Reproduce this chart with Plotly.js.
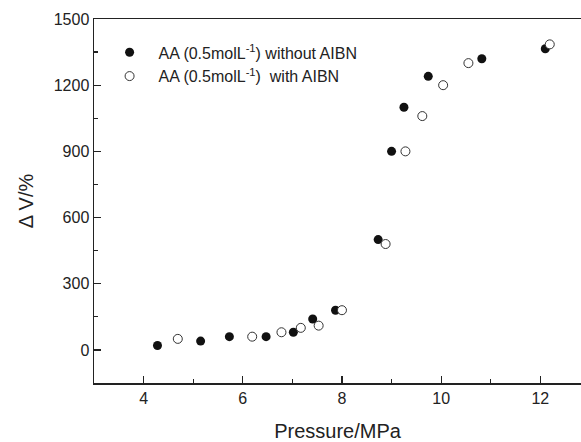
<!DOCTYPE html>
<html>
<head>
<meta charset="utf-8">
<script src="https://cdn.plot.ly/plotly-3.0.1.min.js"></script>
<style>html,body{margin:0;padding:0;background:#fff;}#chart{width:581px;height:442px;}</style>
</head>
<body>
<div id="chart"></div>
<script>
const seriesNames = ["&nbsp;&nbsp;AA (0.5molL<sup>-1</sup>) without AIBN", "&nbsp;&nbsp;AA (0.5molL<sup>-1</sup>)&nbsp;&nbsp;with AIBN"];
const pressureWithout = [4.28, 5.15, 5.73, 6.47, 7.02, 7.41, 7.87, 8.73, 9.0, 9.25, 9.74, 10.82, 12.1];
const dvWithout = [20, 40, 60, 60, 80, 140, 180, 500, 900, 1100, 1240, 1320, 1365];
const pressureWith = [4.69, 6.19, 6.78, 7.17, 7.53, 8.0, 8.88, 9.28, 9.62, 10.04, 10.55, 12.19];
const dvWith = [50, 60, 80, 100, 110, 180, 480, 900, 1060, 1200, 1300, 1385];
const xTicks = [4, 6, 8, 10, 12];
const yTicks = [0, 300, 600, 900, 1200, 1500];

const traces = [
  {x: pressureWithout, y: dvWithout, name: seriesNames[0], mode: 'markers', type: 'scatter',
   marker: {symbol: 'circle', size: 9, color: '#111', line: {width: 0}}},
  {x: pressureWith, y: dvWith, name: seriesNames[1], mode: 'markers', type: 'scatter',
   marker: {symbol: 'circle', size: 9, color: '#fff', line: {width: 1, color: '#333'}}}
];

const layout = {
  width: 581, height: 442,
  margin: {l: 94, r: 0, t: 19, b: 59},
  paper_bgcolor: '#fff', plot_bgcolor: '#fff',
  font: {family: 'Arial, "Liberation Sans", sans-serif', color: '#222', size: 16},
  showlegend: true,
  legend: {x: 0.032, y: 0.955, xanchor: 'left', yanchor: 'top', bgcolor: 'rgba(0,0,0,0)',
           font: {size: 16, color: '#222'}, itemwidth: 30, tracegroupgap: 0},
  xaxis: {
    range: [3, 12.82], tickvals: xTicks, ticktext: xTicks.map(String),
    ticks: 'inside', ticklen: 7, tickwidth: 1.3, tickcolor: '#222',
    showline: true, linecolor: '#222', linewidth: 1.5, mirror: true,
    showgrid: false, zeroline: false,
    minor: {dtick: 1, tick0: 3, ticks: 'inside', ticklen: 4, tickcolor: '#222', showgrid: false},
    tickfont: {size: 16},
    title: {text: 'Pressure/MPa', font: {size: 20}, standoff: 20}
  },
  yaxis: {
    range: [-150, 1500], tickvals: yTicks, ticktext: yTicks.map(String),
    ticks: 'inside', ticklen: 7, tickwidth: 1.3, tickcolor: '#222',
    showline: true, linecolor: '#222', linewidth: 1.5, mirror: false,
    showgrid: false, zeroline: false,
    minor: {dtick: 150, tick0: 150, ticks: 'inside', ticklen: 4, tickcolor: '#222', showgrid: false},
    tickfont: {size: 16},
    title: {text: 'Δ V/%', font: {size: 20}, standoff: 14}
  }
};

Plotly.newPlot('chart', traces, layout, {displayModeBar: false, staticPlot: true});
</script>
</body>
</html>
